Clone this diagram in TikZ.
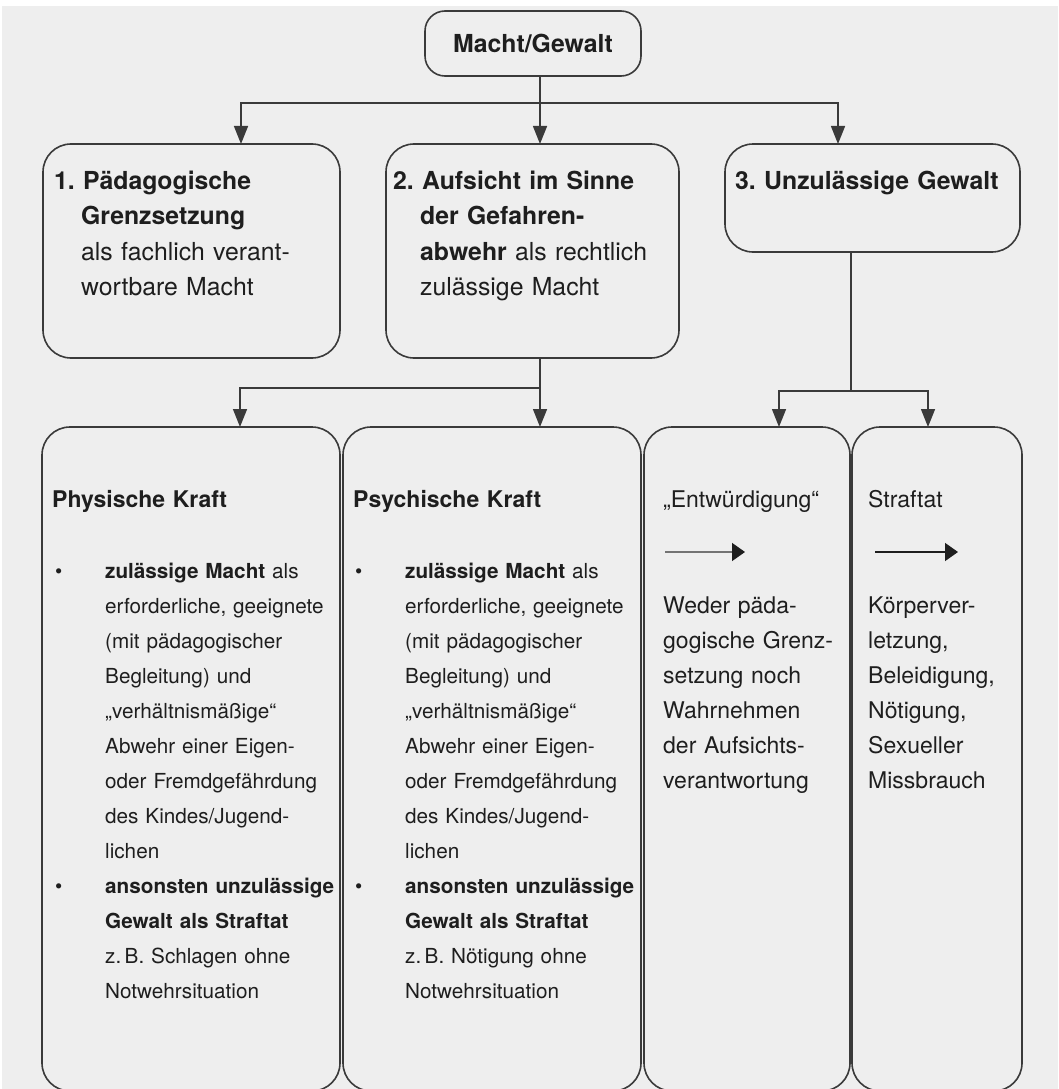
\documentclass[tikz,border=0pt]{standalone}
\usepackage{fontspec}
\setmainfont{TeX Gyre Heros}
\usetikzlibrary{arrows.meta}
\definecolor{hgrund}{HTML}{EEEEEE}
\definecolor{rahmen}{HTML}{3A3A3A}
\definecolor{schrift}{HTML}{1E1E1E}
\newcommand{\einr}{\hspace*{27pt}}
\newcommand{\einz}{\hspace*{50pt}}
\newcommand{\bul}{\makebox[50pt][l]{\textbullet}}
\tikzset{
  kasten/.style={draw=rahmen, line width=1.6pt, rounded corners=28pt, inner sep=0pt},
  linie/.style={draw=rahmen, line width=1.5pt},
  pfeil/.style={linie, -{Triangle[length=18pt,width=14pt]}},
  kpfeil/.style={line width=1.5pt, -{Triangle[length=13pt,width=18pt,color=schrift]}},
  text1/.style={anchor=base west, inner sep=0pt, align=left, text width=330pt, text=schrift, font=\fontsize{24.8pt}{35.5pt}\selectfont},
  text2/.style={text1, font=\fontsize{20.7pt}{35pt}\selectfont},
  text3/.style={text1, font=\fontsize{23pt}{35pt}\selectfont}
}
\begin{document}
\begin{tikzpicture}
\useasboundingbox (0,0) rectangle (1058pt,-1089pt);
\clip (0,0) rectangle (1058pt,-1089pt);
\fill[white] (0,0) rectangle (1058pt,-1089pt);
\fill[hgrund] (2pt,-6pt) rectangle (1058pt,-1089pt);
\begin{scope}[x=1pt,y=1pt]
\node[kasten, minimum width=216pt, minimum height=65pt, rounded corners=20pt, text=schrift, font=\fontsize{24.8pt}{30pt}\selectfont\bfseries] (top) at (533,-43.5) {Macht/Gewalt};

\node[kasten, minimum width=297pt, minimum height=214pt] (b1) at (191.5,-251) {};
\node[kasten, minimum width=293pt, minimum height=214pt] (b2) at (532.5,-251) {};
\node[kasten, minimum width=295pt, minimum height=108pt] (b3) at (872.5,-198) {};

\node[kasten, minimum width=298pt, minimum height=664pt] (b4) at (191,-759) {};
\node[kasten, minimum width=298pt, minimum height=664pt] (b5) at (492,-759) {};
\node[kasten, minimum width=206pt, minimum height=664pt] (b6) at (747,-759) {};
\node[kasten, minimum width=170pt, minimum height=664pt] (b7) at (937,-759) {};

\coordinate (split1) at (540,-103);
\coordinate (t1) at (241,-144);
\coordinate (t2) at (540,-144);
\coordinate (t3) at (838,-144);
\draw[linie] (top.south -| split1) -- (split1);
\draw[pfeil] (split1) -| (t1);
\draw[pfeil] (split1) -- (t2);
\draw[pfeil] (split1) -| (t3);

\coordinate (split2) at (540,-388);
\coordinate (t4) at (240,-427);
\coordinate (t5) at (540,-427);
\draw[linie] (b2.south -| split2) -- (split2);
\draw[pfeil] (split2) -| (t4);
\draw[pfeil] (split2) -- (t5);

\coordinate (split3) at (851,-391);
\coordinate (t6) at (779,-427);
\coordinate (t7) at (928,-427);
\draw[linie] (b3.south -| split3) -- (split3);
\draw[pfeil] (split3) -| (t6);
\draw[pfeil] (split3) -| (t7);

\node[text1] (b1txt) at (54,-189) {\textbf{1.\ Pädagogische}\\
  \einr\textbf{Grenzsetzung}\\
  \einr als fachlich verant-\\
  \einr wortbare Macht};
\node[text1] (b2txt) at (393,-189) {\textbf{2.\ Aufsicht im Sinne}\\
  \einr\textbf{der Gefahren-}\\
  \einr\textbf{abwehr} als rechtlich\\
  \einr zulässige Macht};
\node[text1] (b3txt) at (735,-189) {\textbf{3.\ Unzulässige Gewalt}};

\node[text3] (b4kopf) at (52,-507) {\textbf{Physische Kraft}};
\node[text2] (b4txt) at (55,-578) {\bul\textbf{zulässige Macht} als\\
  \einz erforderliche, geeignete\\
  \einz (mit pädagogischer\\
  \einz Begleitung) und\\
  \einz „verhältnismäßige“\\
  \einz Abwehr einer Eigen-\\
  \einz oder Fremdgefährdung\\
  \einz des Kindes/Jugend-\\
  \einz lichen\\
  \bul\textbf{ansonsten unzulässige}\\
  \einz\textbf{Gewalt als Straftat}\\
  \einz z.\,B. Schlagen ohne\\
  \einz Notwehrsituation};

\node[text3] (b5kopf) at (353,-507) {\textbf{Psychische Kraft}};
\node[text2] (b5txt) at (355,-578) {\bul\textbf{zulässige Macht} als\\
  \einz erforderliche, geeignete\\
  \einz (mit pädagogischer\\
  \einz Begleitung) und\\
  \einz „verhältnismäßige“\\
  \einz Abwehr einer Eigen-\\
  \einz oder Fremdgefährdung\\
  \einz des Kindes/Jugend-\\
  \einz lichen\\
  \bul\textbf{ansonsten unzulässige}\\
  \einz\textbf{Gewalt als Straftat}\\
  \einz z.\,B. Nötigung ohne\\
  \einz Notwehrsituation};

\node[text3] (b6kopf) at (663,-507) {„Entwürdigung“};
\coordinate (e1) at (665,-552);
\coordinate (e2) at (745,-552);
\draw[kpfeil, draw=black!55] (e1) -- (e2);
\node[text3] (b6txt) at (663,-613) {Weder päda-\\
  gogische Grenz-\\
  setzung noch\\
  Wahrnehmen\\
  der Aufsichts-\\
  verantwortung};

\node[text3] (b7kopf) at (868,-507) {Straftat};
\coordinate (s1) at (875,-552);
\coordinate (s2) at (958,-552);
\draw[kpfeil, draw=schrift] (s1) -- (s2);
\node[text3] (b7txt) at (868,-613) {Körperver-\\
  letzung,\\
  Beleidigung,\\
  Nötigung,\\
  Sexueller\\
  Missbrauch};
\end{scope}
\end{tikzpicture}
\end{document}
